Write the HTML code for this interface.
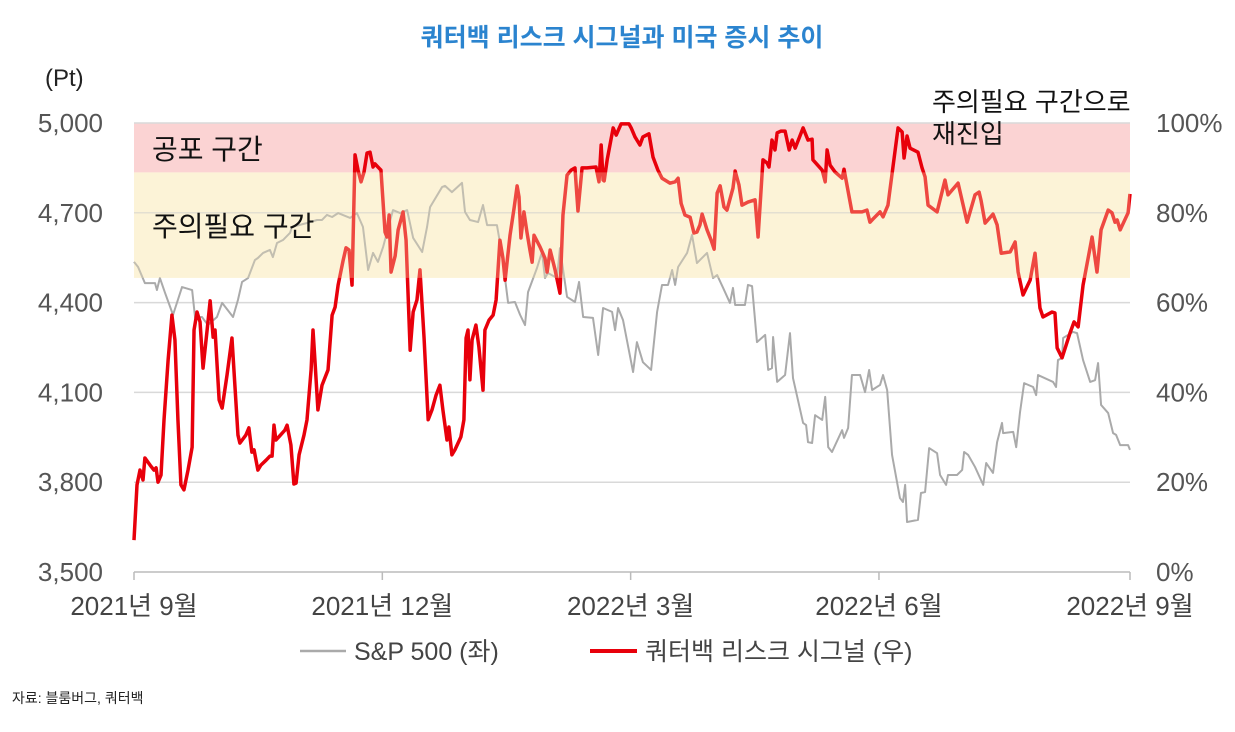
<!DOCTYPE html>
<html><head><meta charset="utf-8"><style>
body{margin:0;background:#fff;}
svg text{font-family:"Liberation Sans","Noto Sans CJK KR",sans-serif;}
</style></head><body>
<svg id="chart" width="1235" height="727" xmlns="http://www.w3.org/2000/svg">
<text x="622" y="46" text-anchor="middle" font-size="25" font-weight="bold" fill="#2b84cf">쿼터백 리스크 시그널과 미국 증시 추이</text>
<text x="45" y="86" font-size="24" fill="#222">(Pt)</text>
<g id="bands"></g>
<g id="grid"></g>
<g id="lines"></g>
<g id="axes"></g>
<text x="152" y="159" font-size="28" fill="#111">공포 구간</text>
<text x="152" y="236" font-size="28" fill="#111">주의필요 구간</text>
<text x="932" y="111" font-size="26" fill="#111">주의필요 구간으로</text>
<text x="932" y="143" font-size="26" fill="#111">재진입</text>
<line x1="300" y1="651" x2="346" y2="651" stroke="#aaa" stroke-width="2.5"/>
<text x="354" y="660" font-size="25" fill="#444">S&amp;P 500 (좌)</text>
<line x1="590" y1="651" x2="637" y2="651" stroke="#e8000b" stroke-width="4"/>
<text x="645" y="660" font-size="25" fill="#444">쿼터백 리스크 시그널 (우)</text>
<text x="12" y="703" font-size="14" fill="#222">자료: 블룸버그, 쿼터백</text>
</svg>
<script>
const xTickLabels=["2021년 9월","2021년 12월","2022년 3월","2022년 6월","2022년 9월"];
const xTickDays=[0,91,182,273,365];
const leftTicks=[3500,3800,4100,4400,4700,5000];
const rightTicks=[0,20,40,60,80,100];
const cautionBand=[65.5,89];
const fearBand=[89,100];
const spDays=[0,1.5,4,7.7,8.4,9.5,11.4,14.3,17.6,21.3,22.4,24.9,27.1,30.4,32.3,36.3,38.1,39.6,41.8,44.3,45.4,47.3,49.8,50.9,52.4,54.6,57.2,57.9,63.4,67.1,68.9,70.7,72.6,74.8,79.2,81.7,83.9,85.8,87.6,89.4,91.3,94.9,97.5,100.1,102.3,105.6,107.4,108.5,112.9,114,116.5,120.2,121.3,123.1,126.1,127.9,129.4,133,134.9,137.1,139.6,141.5,143.3,144.4,147.7,149.5,150.6,151.7,155,156.1,158.7,161.6,163.1,164.6,168.2,170.1,171.9,175.2,176.3,177.4,179.2,182.9,184.3,186.5,189.5,191.7,193.5,195.7,197.2,198.3,199.4,202.7,204.5,206.3,210,212.2,213.7,215.9,218.4,219.5,220.3,223.9,225,226.5,228.3,231.3,232.4,233.8,234.2,235.7,238.6,240.4,241.5,245.2,246.3,247,248.5,249.6,252.2,253.3,254.4,255.8,259.5,260.2,261.7,263.1,266.1,267.9,269.4,270.5,273.4,274.5,276,277.8,280.7,281.8,282.6,283.3,287.3,288.4,289.9,291.4,294.3,295.4,297.6,298.3,301.6,303.5,304.2,305.7,308.2,311.2,312.3,314.8,316.3,318.1,318.5,322.2,323.3,324.7,326.2,329.5,330.6,331.3,336.8,337.9,338.6,340.1,340.5,344.1,345.6,347.8,350.4,352.2,353.3,354.4,357,358.8,359.9,361.4,364.3,365];
const spValues=[4536,4519,4465,4465,4442,4482,4432,4359,4452,4442,4349,4352,4325,4352,4399,4352,4409,4469,4482,4542,4549,4566,4576,4552,4599,4609,4633,4653,4666,4676,4676,4693,4686,4699,4683,4699,4653,4509,4566,4536,4586,4709,4699,4709,4616,4569,4653,4719,4786,4790,4769,4800,4703,4676,4669,4726,4659,4659,4559,4399,4402,4359,4325,4435,4516,4569,4482,4499,4482,4582,4419,4402,4469,4352,4349,4225,4382,4369,4308,4382,4342,4168,4268,4201,4175,4369,4459,4459,4509,4459,4519,4566,4626,4532,4566,4482,4492,4449,4399,4449,4392,4392,4459,4455,4268,4292,4175,4181,4285,4135,4158,4298,4148,3998,3991,3934,3931,4024,4008,4085,3917,3901,3974,3948,3981,4158,4158,4101,4175,4108,4125,4158,4108,3891,3747,3734,3791,3667,3674,3764,3767,3914,3897,3824,3791,3824,3824,3841,3901,3891,3851,3791,3864,3831,3934,3998,3964,3968,3917,4034,4131,4118,4091,4158,4135,4118,4208,4215,4282,4302,4298,4208,4135,4141,4198,4058,4031,3964,3958,3924,3924,3908];
const riskDays=[0,1.1,2.2,3.3,4,5.9,7.3,8.1,8.8,9.9,11,12.5,13.9,15,16.1,17.2,18.3,19.8,21.3,22,23.1,24.2,25.3,26.8,27.9,29,29.7,31.2,32.3,34.1,35.9,38.1,38.8,41,42.1,43.2,44,45.4,46.5,48.4,49.8,50.6,51.3,52,53.1,55.3,56.1,57.5,58.6,59.4,60.5,62.3,63.4,64.9,65.6,66.3,67.4,68.9,71.1,72.6,73.7,74.8,76.6,77.7,78.8,79.9,81,82.1,83.2,84.3,85.4,86.5,87.6,88.3,90.5,92,92.7,93.5,94.2,95.7,96.8,98.6,99.7,101.2,102.3,103.7,104.8,106.3,107.8,109.2,110.7,112.1,113.2,114.7,115.4,116.5,117.6,119.8,120.9,121.7,122.4,123.1,123.9,125.3,126.4,127.9,128.6,130.1,131.6,132.7,134.1,135.2,136,137.8,139.3,140.4,141.1,141.8,142.9,144,145.1,145.9,146.6,148.8,150.6,151.4,152.5,154.3,156.1,157.2,158.7,160.2,161.6,162.7,164.2,166,169.3,170.4,171.2,171.9,172.3,173.4,175.6,176.7,178.5,181.4,182.2,183.6,185.4,186.5,188.7,190.2,192,193.5,196.4,198.3,199.4,200.5,201.9,203.8,205.2,206.3,207.4,208.2,210,211.5,212.6,213.7,214.8,216.2,217.3,219.5,220.3,221.7,222.8,225,227.6,228.7,230.5,232,232.7,233.8,234.9,235.7,237.1,238.6,240.1,241.2,242.3,245.2,247,248.5,248.8,252.2,253.3,254,255.1,256.9,259.5,260.2,263.1,266.8,268.6,269.7,270.8,273.4,274.5,276.3,280,281.5,282.2,283.3,284.4,287.3,288.8,289.9,291,294.3,297.2,298.3,302,305.3,308.2,309.7,310.4,311.9,314.8,316.3,317.8,321.1,322.9,324,325.8,328.4,330.2,332,333.1,336.4,337.5,338.3,340.1,343,344.5,346,347.8,351.1,352.9,354.4,357,358.4,359.5,360.3,361.4,364.3,365];
const riskValues=[7.1,19.4,22.7,20.5,25.4,23.8,22.7,23.2,20,21.6,33.9,47.2,57.2,51.7,33.9,19.4,18.3,22.7,27.8,53.9,57.9,55.7,45.4,53.9,60.4,52.3,53.9,38.3,36.5,43.9,52.1,30.5,28.7,30.5,32.1,26.7,27.2,22.7,23.8,24.9,25.8,25.8,32.7,29.4,30.1,31.6,32.7,28.3,19.6,19.8,26.1,30.5,33.9,45,53.9,47.2,36.1,41.6,45,57.2,59,63.9,69.3,72.2,71.7,63.9,92.9,89.5,86.9,89.1,93.3,93.5,90.2,90.9,89.5,75.7,74.6,79.5,66.8,70.4,76.2,80.2,73.9,49.4,57.9,60.6,67.3,52.1,33.9,36.1,39.4,41.6,36.1,29.4,32.3,26.1,27.2,30.1,33.9,52.1,53.9,42.8,51.7,55,50.1,40.5,53.9,56.1,57.2,60.6,73.9,69.9,65,75,81.1,86,83.5,74.4,80.2,75.7,71.7,69,75,72.4,69.9,66.8,71.7,67.3,62.1,79.5,88.4,89.5,90,80.4,90,90,90.2,86.9,95.1,87.3,87.1,91.8,98.9,97.3,99.8,99.8,98.9,96.9,95.1,96.9,97.6,92.4,89.5,87.7,86.6,86.9,87.7,82.1,79.5,79,75.5,75.7,77.3,79.7,76.2,73.9,71.9,84.4,86,81.3,80.6,85.5,89.3,86.2,81.7,82.4,82.9,74.6,91.8,91.1,90.2,96.2,94,97.8,98.2,98.2,94,96.2,94.4,98.9,96.2,96.4,91.8,89.5,86.9,94,90.6,89.1,87.7,89.7,80.2,80.2,80.6,77.9,78.6,80.2,79.1,81.7,98.9,98,92.2,97.1,94.4,93.5,90,88,81.7,80.2,87.3,84,86.6,77.9,84,84.6,82.8,77.7,79.7,77.3,71,71.3,73.5,66.8,61.7,65,71,58.8,56.8,57.9,57.7,49.9,47.7,53.2,55.7,54.6,63.9,74.6,66.8,76.2,80.6,80,77.9,78.4,76.2,80,84.2];

const NS="http://www.w3.org/2000/svg";
const X0=134,X1=1130,Y0=572,Y1=123;
const xs=d=>X0+(X1-X0)*d/365;
const yL=v=>Y0-(Y0-Y1)*(v-3500)/1500;
const yR=p=>Y0-(Y0-Y1)*p/100;
function mk(tag,attrs,parent){const e=document.createElementNS(NS,tag);for(const k in attrs)e.setAttribute(k,attrs[k]);parent.appendChild(e);return e;}
const bands=document.getElementById('bands'),grid=document.getElementById('grid'),lines=document.getElementById('lines'),axes=document.getElementById('axes');
let r=mk('rect',{x:X0,y:yR(cautionBand[1]),width:X1-X0,height:yR(cautionBand[0])-yR(cautionBand[1]),fill:'#fdf5e1'},bands);


r=mk('rect',{x:X0,y:yR(fearBand[1]),width:X1-X0,height:yR(fearBand[0])-yR(fearBand[1]),fill:'#fbd3d3'},bands);


leftTicks.forEach((v,i)=>{
  const y=yL(v);
  if(i>0){const g=mk('line',{x1:X0,x2:X1,y1:y,y2:y,stroke:'#d9d9d9','stroke-width':1.5},grid);
  
  }
  const t=mk('text',{x:103,y:y+9,'text-anchor':'end','font-size':26,fill:'#555'},axes);
  t.textContent=v.toLocaleString('en-US');
  
  
});
rightTicks.forEach(p=>{
  const t=mk('text',{x:1156,y:yR(p)+9,'font-size':26,fill:'#555'},axes);
  t.textContent=p+'%';
  
  
});
const ax=mk('line',{x1:X0,x2:X1,y1:Y0,y2:Y0,stroke:'#bbb','stroke-width':1.5},axes);


xTickDays.forEach((d,i)=>{
  const x=xs(d);
  const tk=mk('line',{x1:x,x2:x,y1:Y0,y2:Y0+8,stroke:'#bbb','stroke-width':1.5},axes);
  
  
  const t=mk('text',{x:x,y:615,'text-anchor':'middle','font-size':26,fill:'#444'},axes);
  t.textContent=xTickLabels[i];
  
  
});
const sp=mk('polyline',{points:spDays.map((d,i)=>xs(d)+','+yL(spValues[i])).join(' '),fill:'none',stroke:'#aaaaaa','stroke-width':2,'stroke-linejoin':'round'},lines);


const rk=mk('polyline',{points:riskDays.map((d,i)=>xs(d)+','+yR(riskValues[i])).join(' '),fill:'none',stroke:'#e8000b','stroke-width':3.5,'stroke-linejoin':'round'},lines);


const ov=mk('rect',{x:X0,y:yR(cautionBand[1]),width:X1-X0,height:yR(cautionBand[0])-yR(cautionBand[1]),fill:'#fdf0c0','fill-opacity':0.3},lines);


</script>
</body></html>
